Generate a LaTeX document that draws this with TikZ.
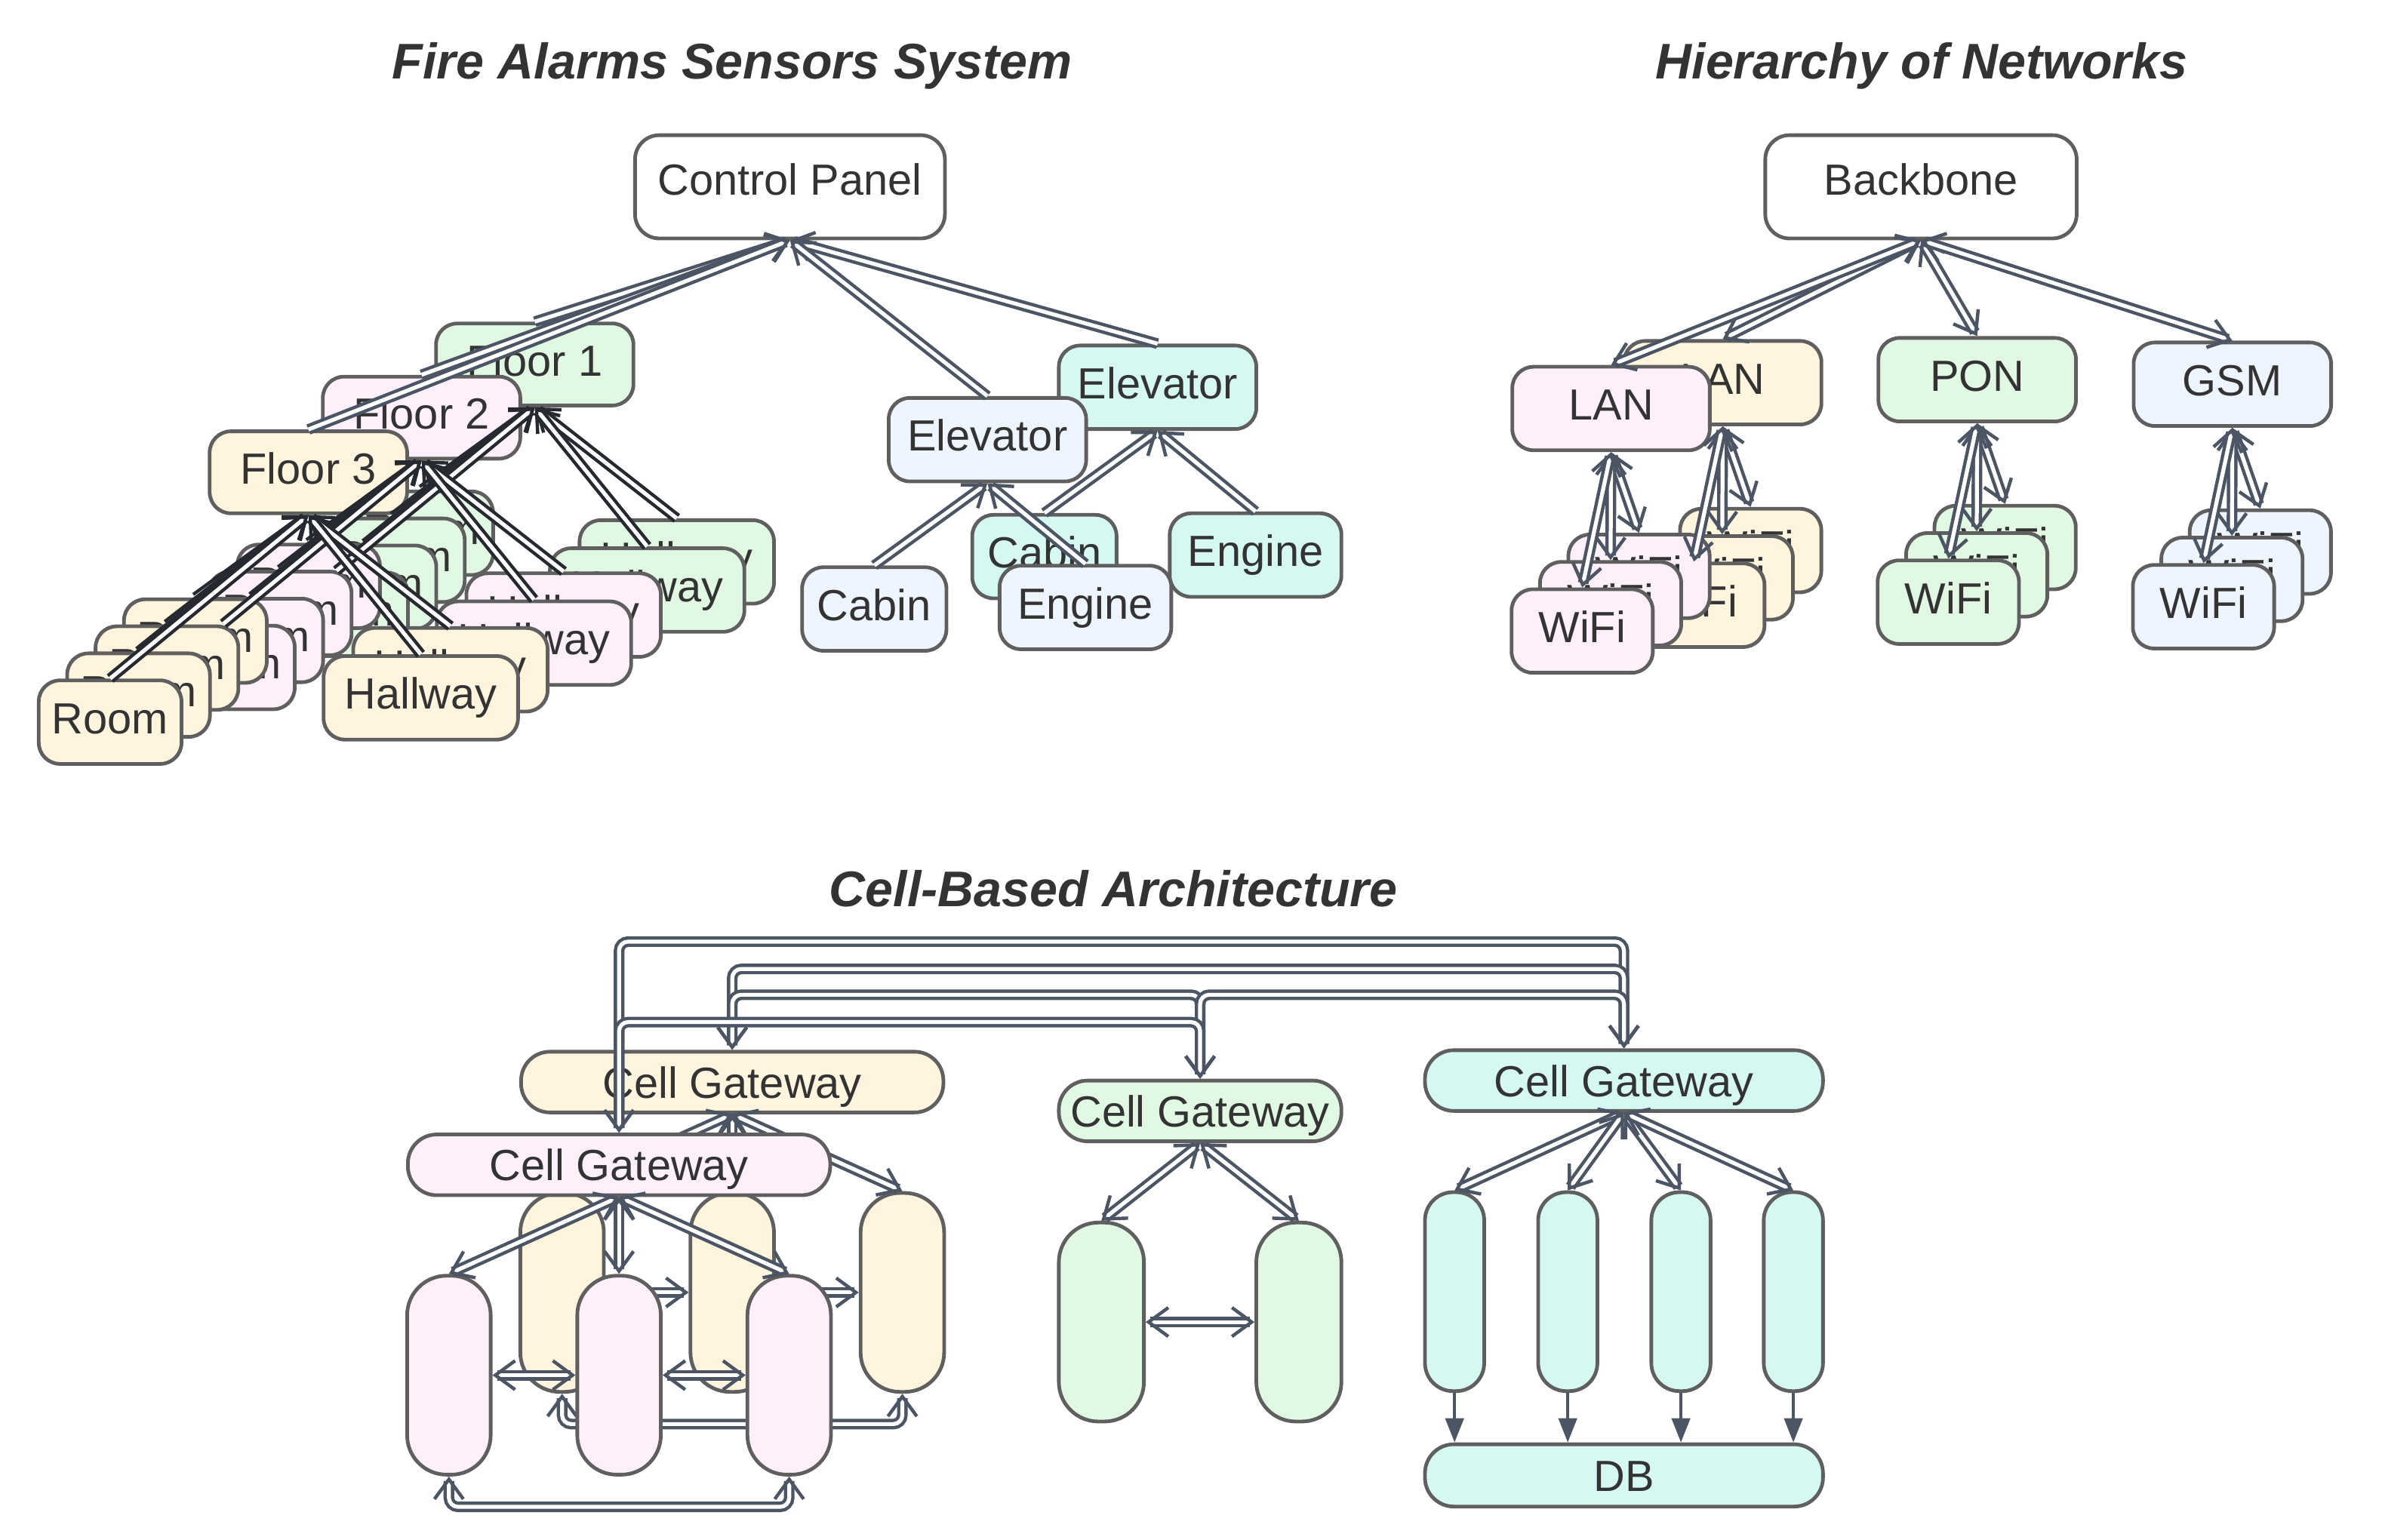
\documentclass[tikz,border=0pt]{standalone}
\usepackage{fontspec}
\setmainfont{Liberation Sans}
\usetikzlibrary{arrows.meta}

\definecolor{ink}{HTML}{333333}
\definecolor{nodeline}{HTML}{5F5F5F}
\definecolor{edgeline}{HTML}{4B5563}
\definecolor{edgedark}{HTML}{262A30}
\definecolor{yelfill}{HTML}{FFF4DD}
\definecolor{pinkfill}{HTML}{FDF0FA}
\definecolor{greenfill}{HTML}{E1F9E3}
\definecolor{bluefill}{HTML}{EEF5FF}
\definecolor{tealfill}{HTML}{D6F8F2}

\newcommand{\lblfont}{\fontsize{28.7}{34}\selectfont}
\newcommand{\ttlfont}{\fontsize{33}{40}\selectfont\bfseries\itshape}

\tikzset{
  box/.style={draw=nodeline, line width=2.4pt, rounded corners=14pt, inner sep=0pt, text=ink, font=\lblfont,
    text height=21pt, text depth=6pt},
  pill/.style={box, rounded corners=#1, text depth=0pt},
  ttl/.style={anchor=base, text=ink, font=\ttlfont, inner sep=0pt},
  link/.style={draw=edgeline, line width=2.2pt, double=white, double distance=2.6pt},
  darklink/.style={link, draw=edgedark},
  feed/.style={draw=edgeline, line width=2.2pt, -{Triangle[length=16pt,width=12pt]}}
}

\begin{document}
\begin{tikzpicture}[x=1pt,y=-1pt,>={Straight Barb[length=13pt,width=19pt,line width=2.2pt 0 0]}]
\useasboundingbox (0,0) rectangle (1568,1014);

% titles
\node[ttl] (ttlfire) at (482,52) {Fire Alarms Sensors System};
\node[ttl] (ttlnet) at (1265,52) {Hierarchy of Networks};
\node[ttl] (ttlcell) at (733,597) {Cell-Based Architecture};

% Fire Alarms Sensors System
\node[box, fill=white, minimum width=204pt, minimum height=68pt, rounded corners=16pt, text depth=10pt] (cp) at (520,123) {Control Panel};
\foreach \f/\col/\dx/\dy in {1/greenfill/149/71, 2/pinkfill/74.5/36, 3/yelfill/0/0} {
  \node[box, fill=\col, minimum width=130pt, minimum height=54pt] (floor\f) at (203+\dx,311-\dy) {Floor \f};
  \foreach \i in {3,2,1,0}
    \node[box, fill=\col, minimum width=94pt, minimum height=55pt] (room\f\i) at (72.5+18.7*\i+\dx,475.5-17.8*\i-\dy) {Room};
  \foreach \i in {1,0}
    \node[box, fill=\col, minimum width=128pt, minimum height=55pt] (hall\f\i) at (277+19.5*\i+\dx,459.5-18.5*\i-\dy) {Hallway};
}
\foreach \e/\col/\dx/\dy in {t/tealfill/112/34.5, b/bluefill/0/0} {
  \node[box, fill=\col, minimum width=130pt, minimum height=55pt] (elev\e) at (650+\dx,289.5-\dy) {Elevator};
  \node[box, fill=\col, minimum width=95pt, minimum height=55pt] (cabin\e) at (575.5+\dx,401-\dy) {Cabin};
  \node[box, fill=\col, minimum width=113pt, minimum height=55pt] (engine\e) at (714.5+\dx,400-\dy) {Engine};
}
\foreach \f in {1,2,3} {
  \foreach \i in {3,2,1,0} \draw[darklink,->] (room\f\i.north) -- (floor\f.south);
  \foreach \i in {1,0} \draw[darklink,->] (hall\f\i.north) -- (floor\f.south);
}
\foreach \f in {1,2,3} \draw[link,->] (floor\f.north) -- (cp.south);
\foreach \e in {t,b} {
  \draw[link,->] (cabin\e.north) -- (elev\e.south);
  \draw[link,->] (engine\e.north) -- (elev\e.south);
  \draw[link,->] (elev\e.north) -- (cp.south);
}

% Hierarchy of Networks
\node[box, fill=white, minimum width=205pt, minimum height=68pt, rounded corners=16pt, text depth=10pt] (backbone) at (1264.5,123) {Backbone};
\foreach \n/\col/\x/\y/\lbl in {lanb/yelfill/1134/252/LAN, lana/pinkfill/1060.5/269/LAN, pon/greenfill/1301.5/250/PON, gsm/bluefill/1469.5/253/GSM} {
  \node[box, fill=\col, minimum width=130pt, minimum height=55pt] (\n) at (\x,\y) {\lbl};
  \foreach \i in {2,1,0}
    \node[box, fill=\col, minimum width=93pt, minimum height=55pt] (wifi\n\i) at (\x-19+18.7*\i,\y+146.5-18*\i) {WiFi};
}
\foreach \n in {lanb,lana,pon,gsm} {
  \draw[link,<->] (backbone.south) -- (\n.north);
  \foreach \i in {2,1,0} \draw[link,<->] (\n.south) -- (wifi\n\i.north);
}

% Cell-Based Architecture
\foreach \c/\col/\dx/\dy in {y/yelfill/0/0, p/pinkfill/-74.5/54.5} {
  \node[pill=19pt, fill=\col, minimum width=278pt, minimum height=40pt] (gw\c) at (482+\dx,712.5+\dy) {Cell Gateway};
  \foreach \i/\x in {1/370,2/482,3/594}
    \node[pill=26pt, fill=\col, minimum width=55pt, minimum height=131pt] (cell\c\i) at (\x+\dx,851+\dy) {};
  \foreach \i in {1,2,3} \draw[link,<->] (gw\c.south) -- (cell\c\i.north);
  \draw[link,<->] (cell\c1.east) -- (cell\c2.west);
  \draw[link,<->] (cell\c2.east) -- (cell\c3.west);
  \draw[link,<->,rounded corners=6pt] (cell\c1.south) -- ++(0,20) -| (cell\c3.south);
}
\node[pill=19pt, fill=greenfill, minimum width=186pt, minimum height=40pt] (gwg) at (790,731.5) {Cell Gateway};
\foreach \i/\x in {1/725,2/855}
  \node[pill=26pt, fill=greenfill, minimum width=56pt, minimum height=131pt] (cellg\i) at (\x,870.5) {};
\foreach \i in {1,2} \draw[link,<->] (gwg.south) -- (cellg\i.north);
\draw[link,<->] (cellg1.east) -- (cellg2.west);

\node[pill=19pt, fill=tealfill, minimum width=262pt, minimum height=40pt] (gwt) at (1069,711.5) {Cell Gateway};
\node[pill=19pt, fill=tealfill, minimum width=262pt, minimum height=41pt] (db) at (1069,971.5) {DB};
\foreach \i/\x in {1/957.5,2/1032,3/1106.5,4/1180.5} {
  \node[pill=18.5pt, fill=tealfill, minimum width=39pt, minimum height=131pt] (cellt\i) at (\x,850.5) {};
  \draw[link,<->] (gwt.south) -- (cellt\i.north);
  \draw[feed] (cellt\i.south) -- (cellt\i.south |- db.north);
}

% links between gateways
\coordinate (busa) at (0,620);
\coordinate (busb) at (0,638);
\coordinate (busc) at (0,655);
\coordinate (busd) at (0,673);
\draw[link,<->,rounded corners=6pt] (gwp.north) -- (gwp.north |- busa) -| (gwt.north);
\draw[link,<->,rounded corners=6pt] (gwy.north) -- (gwy.north |- busb) -| (gwt.north);
\draw[link,<->,rounded corners=6pt] (gwy.north) -- (gwy.north |- busc) -| (gwg.north);
\draw[link,<->,rounded corners=6pt] (gwg.north) -- (gwg.north |- busc) -| (gwt.north);
\draw[link,<->,rounded corners=6pt] (gwp.north) -- (gwp.north |- busd) -| (gwg.north);
\end{tikzpicture}
\end{document}
